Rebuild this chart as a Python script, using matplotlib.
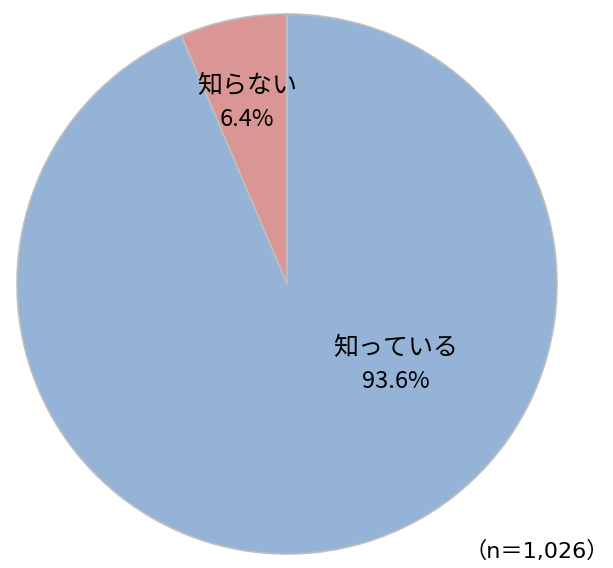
import matplotlib
matplotlib.use("Agg")
import matplotlib.pyplot as plt

plt.rcParams['font.family'] = ['Noto Sans CJK JP', 'DejaVu Sans']

categories = ["知らない", "知っている"]
values = [6.4, 93.6]
colors = ["#D99694", "#95B3D7"]
n_label = "（n＝1,026）"

fig = plt.figure(figsize=(6.13, 5.68), dpi=100)
ax = fig.add_axes([0, 0, 1, 1])

ax.pie(values, colors=colors, startangle=90, counterclock=True,
       center=(287, 284), radius=270, frame=True,
       wedgeprops=dict(edgecolor="#BFBFBF", linewidth=1.2))
ax.set_xlim(0, 613)
ax.set_ylim(0, 568)
ax.axis('off')

label_pos = [(247, 568 - 86, 568 - 119), (396, 568 - 348, 568 - 381)]
for cat, val, (x, y1, y2) in zip(categories, values, label_pos):
    ax.text(x, y1, cat, ha='center', va='center', fontsize=18, color='black')
    ax.text(x, y2, f"{val}%", ha='center', va='center', fontsize=17, color='black')

ax.text(609, 568 - 551, n_label, ha='right', va='center', fontsize=16, color='black',
        family=['DejaVu Sans', 'Noto Sans CJK JP'])

fig.savefig("out.png", dpi=100)
